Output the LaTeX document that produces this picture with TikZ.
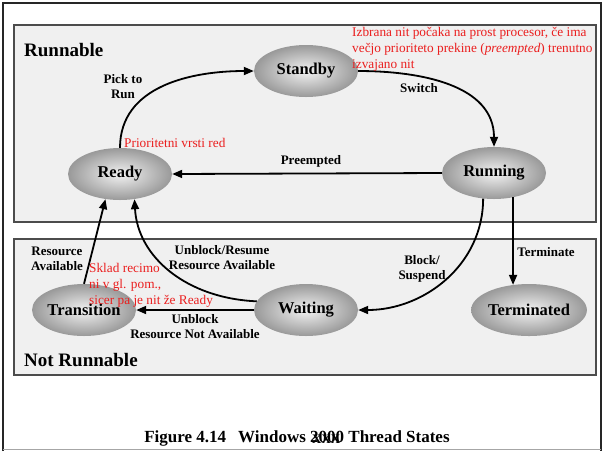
\documentclass[tikz,border=0pt]{standalone}
\usepackage{fontspec}
\setmainfont{Liberation Serif}
\usetikzlibrary{shapes.geometric,arrows.meta}
\definecolor{redtxt}{RGB}{235,30,30}
\begin{document}
\begin{tikzpicture}[x=1pt,y=-1pt,
 state/.style={ellipse, minimum width=104pt, minimum height=52pt, inner sep=0pt, inner color=black!5, outer color=black!40, font=\bfseries\fontsize{16.5}{18}\selectfont},
 lbl/.style={font=\bfseries\fontsize{13}{15}\selectfont, align=center, inner sep=0pt},
 note/.style={text=redtxt, font=\fontsize{13.3}{16}\selectfont, align=left, inner sep=0pt},
 region/.style={draw=black!70, line width=1.2pt, fill=black!6},
 heading/.style={font=\bfseries\fontsize{19}{21}\selectfont, inner sep=0pt, anchor=west},
 arr/.style={line width=1.8pt, -{Triangle[length=10pt,width=8pt]}}
]
\useasboundingbox (0,0) rectangle (604,451);
\fill[white] (0,0) rectangle (604,451);
\draw[black!85, line width=1.5pt] (3,451) -- (3,3) -- (601,3) -- (601,451);
\draw[black!35, line width=0.8pt] (3,449) -- (601,449);
\draw[region] (14,25) rectangle (596,222);
\draw[region] (14,239) rectangle (596,375);

\node[heading] (runnable) at (24,50) {Runnable};
\node[heading] (notrunnable) at (24,360) {Not Runnable};

\node[state] (standby) at (306,71) {Standby};
\node[state] (ready) at (120,174) {Ready};
\node[state] (running) at (494,173) {Running};
\node[state] (transition) at (84,310) {Transition};
\node[state] (waiting) at (306,310) {Waiting};
\node[state] (terminated) at (529,310) {Terminated};

\draw[arr] (ready.north) .. controls +(0,-62) and +(-62,0) .. (standby.west);
\draw[arr] (standby.east) .. controls +(62,0) and +(0,-62) .. (running.north);
\draw[arr] (running.west) -- (ready.east);
\draw[arr] (running.-52) -- (running.-52 |- terminated.123);
\draw[arr] (running.247) .. controls +(0,66) and +(66,0) .. (waiting.east);
\draw[arr] (waiting.170) .. controls +(-70,-3) and +(3,58) .. (ready.-60);
\draw[arr] (waiting.west) -- (transition.east);
\draw[arr] (transition.north) -- (ready.240);

\node[lbl] (lpick) at (123,87) {Pick to\\Run};
\node[lbl] (lswitch) at (419,88) {Switch};
\node[lbl] (lpre) at (311,161) {Preempted};
\node[lbl] (lterm) at (546,252) {Terminate};
\node[lbl] (lblock) at (422,269) {Block/\\Suspend};
\node[lbl] (lunres) at (222,258) {Unblock/Resume\\Resource Available};
\node[lbl] (lresav) at (57,259) {Resource\\Available};
\node[lbl] (lunblock) at (195,327) {Unblock\\Resource Not Available};

\node[note, anchor=north west, font=\fontsize{13.3}{16}\selectfont] (ntop) at (352,27) {Izbrana nit počaka na prost procesor, če ima\\večjo prioriteto prekine (\textit{preempted}) trenutno\\izvajano nit};
\node[note, anchor=west] (nprio) at (124,143) {Prioritetni vrsti red};
\node[note, anchor=north west] (nsklad) at (89,263) {Sklad recimo\\ni v gl. pom.,\\sicer pa je nit že Ready};

\node[font=\bfseries\fontsize{17}{19}\selectfont, inner sep=0pt] (caption) at (297,438) {Figure 4.14\hspace{12pt}Windows \makebox[0pt][l]{\raisebox{-1.5pt}{\fontsize{13}{13}\selectfont\hspace{2pt}XXX}}2000 Thread States};
\end{tikzpicture}
\end{document}
